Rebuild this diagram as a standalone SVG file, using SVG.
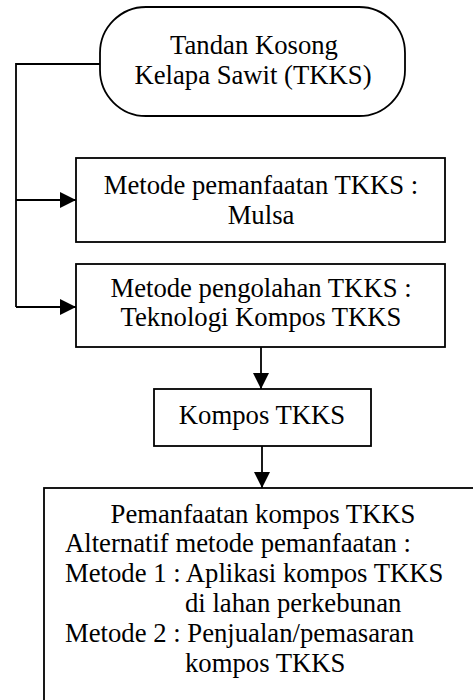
<svg xmlns="http://www.w3.org/2000/svg" width="473" height="700" viewBox="0 0 473 700">
<style>
.box{fill:#fff;stroke:#000;stroke-width:1.8}
.ln{fill:none;stroke:#000;stroke-width:1.8}
.c{text-anchor:middle}
</style>
<defs>
<marker id="ah" markerWidth="16" markerHeight="16" refX="16" refY="8" orient="auto" markerUnits="userSpaceOnUse">
<path d="M0,0 L16,8 L0,16 Z" fill="#000"/>
</marker>
</defs>
<rect width="473" height="700" fill="#fff"/>
<g id="connectors">
<polyline class="ln" points="100,64 16,64 16,307"/>
<line class="ln" x1="16" y1="200" x2="76" y2="200" marker-end="url(#ah)"/>
<line class="ln" x1="16" y1="307" x2="76" y2="307" marker-end="url(#ah)"/>
<line class="ln" x1="261" y1="347" x2="261" y2="389" marker-end="url(#ah)"/>
<line class="ln" x1="262" y1="446" x2="262" y2="488" marker-end="url(#ah)"/>
</g>
<g font-family="Liberation Serif, Times New Roman, serif" font-size="26.7" fill="#000">
<g id="tkks">
<rect class="box" x="100" y="7" width="305" height="109" rx="46" ry="46"/>
<text class="c" x="254" y="54">Tandan Kosong</text>
<text class="c" x="253" y="84">Kelapa Sawit (TKKS)</text>
</g>
<g id="mulsa">
<rect class="box" x="76" y="158" width="369" height="84"/>
<text class="c" x="261" y="194">Metode pemanfaatan TKKS :</text>
<text class="c" x="261" y="224">Mulsa</text>
</g>
<g id="pengolahan">
<rect class="box" x="76" y="264" width="369" height="83"/>
<text class="c" x="261" y="297">Metode pengolahan TKKS :</text>
<text class="c" x="261" y="326">Teknologi Kompos TKKS</text>
</g>
<g id="kompos">
<rect class="box" x="154" y="389" width="217" height="57"/>
<text class="c" x="262" y="424">Kompos TKKS</text>
</g>
<g id="pemanfaatan">
<rect class="box" x="44" y="488" width="440" height="230"/>
<text class="c" x="263" y="523">Pemanfaatan kompos TKKS</text>
<text x="65" y="552">Alternatif metode pemanfaatan :</text>
<text x="65" y="582">Metode 1 : Aplikasi kompos TKKS</text>
<text x="185" y="612">di lahan perkebunan</text>
<text x="65" y="642">Metode 2 : Penjualan/pemasaran</text>
<text x="185" y="672">kompos TKKS</text>
</g>
</g>
</svg>
